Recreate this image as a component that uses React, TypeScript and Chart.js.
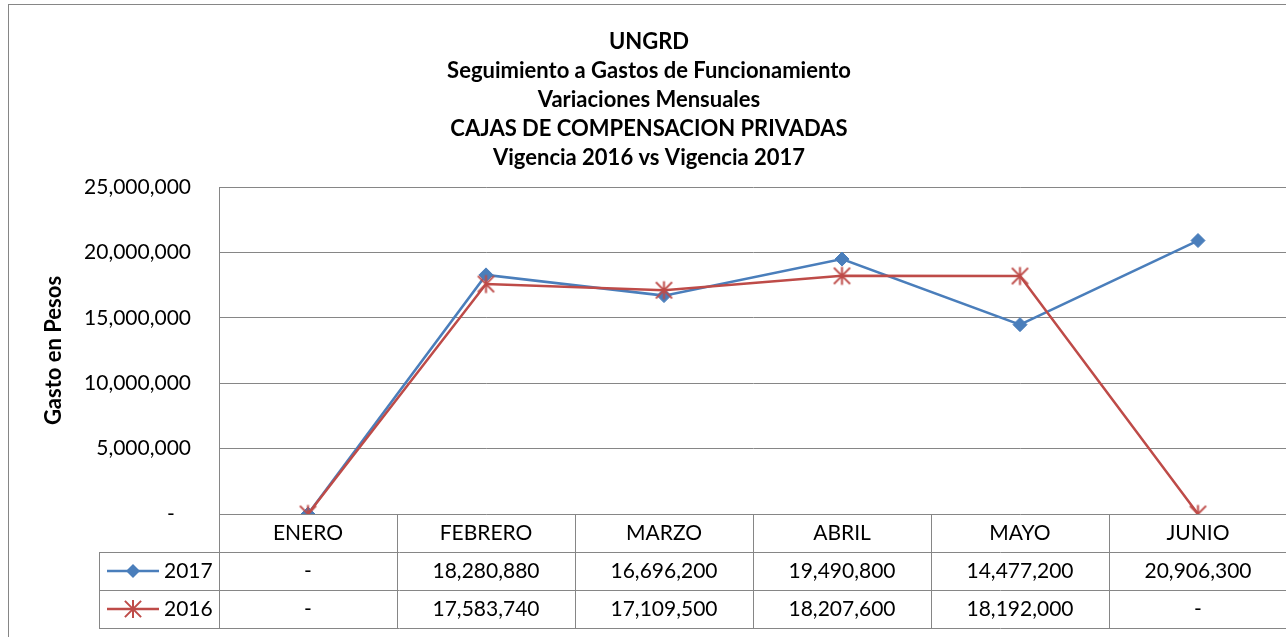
import React, { useEffect, useRef } from 'react';
import { Chart, registerables } from 'chart.js';

Chart.register(...registerables);

const categories = ['ENERO', 'FEBRERO', 'MARZO', 'ABRIL', 'MAYO', 'JUNIO'];
const series2017 = [0, 18280880, 16696200, 19490800, 14477200, 20906300];
const series2016 = [0, 17583740, 17109500, 18207600, 18192000, 0];
const seriesNames = ['2017', '2016'];
const titleLines = [
  'UNGRD',
  'Seguimiento a Gastos de Funcionamiento',
  'Variaciones Mensuales',
  'CAJAS DE COMPENSACION PRIVADAS',
  'Vigencia 2016 vs Vigencia 2017',
];
const yAxisTitle = 'Gasto en Pesos';
const yMin = 0;
const yMax = 25000000;
const yStep = 5000000;

const BLUE = '#4a7ebb';
const RED = '#be4b48';
const GRID = '#868686';
const FONT = 'Lato';
const FSIZE = 21;
const TSIZE = 22;

const fmt = (v: number) => (v === 0 ? '-' : v.toLocaleString('en-US'));

function drawStar(ctx: CanvasRenderingContext2D, cx: number, cy: number, r: number) {
  ctx.beginPath();
  ctx.moveTo(cx, cy - r);
  ctx.lineTo(cx, cy + r);
  ctx.moveTo(cx - r * 0.9, cy - r * 0.9);
  ctx.lineTo(cx + r * 0.9, cy + r * 0.9);
  ctx.moveTo(cx + r * 0.9, cy - r * 0.9);
  ctx.lineTo(cx - r * 0.9, cy + r * 0.9);
  ctx.stroke();
}

function drawDiamond(ctx: CanvasRenderingContext2D, cx: number, cy: number, r: number) {
  ctx.beginPath();
  ctx.moveTo(cx, cy - r);
  ctx.lineTo(cx + r, cy);
  ctx.lineTo(cx, cy + r);
  ctx.lineTo(cx - r, cy);
  ctx.closePath();
  ctx.fill();
}

function makeStarImage(): HTMLCanvasElement {
  const c = document.createElement('canvas');
  c.width = 21;
  c.height = 21;
  const ctx = c.getContext('2d')!;
  ctx.strokeStyle = RED;
  ctx.lineWidth = 2;
  drawStar(ctx, 10.5, 10.5, 9);
  return c;
}

const tablePlugin = {
  id: 'dataTable',
  beforeDraw(chart: any) {
    const ctx = chart.ctx as CanvasRenderingContext2D;
    ctx.save();
    ctx.fillStyle = '#ffffff';
    ctx.fillRect(0, 0, chart.width, chart.height);
    ctx.strokeStyle = GRID;
    ctx.lineWidth = 1;
    ctx.strokeRect(8.5, 4.5, chart.width + 100, chart.height + 100);
    ctx.restore();
  },
  afterDraw(chart: any) {
    const ctx = chart.ctx as CanvasRenderingContext2D;
    const area = chart.chartArea;
    const xs = chart.scales.x;
    const n = categories.length;
    const colW = (area.right - area.left) / n;
    const top = Math.round(area.bottom);
    const headerH = 38;
    const rowH = 38;
    const tableLeft = 99;
    const right = area.right + 20;
    const p = (v: number) => Math.round(v) + 0.5;

    ctx.save();
    ctx.strokeStyle = GRID;
    ctx.lineWidth = 1;
    for (let i = 0; i <= n; i++) {
      const x = p(area.left + i * colW);
      ctx.beginPath();
      ctx.moveTo(x, top);
      ctx.lineTo(x, top + headerH + 2 * rowH);
      ctx.stroke();
    }
    for (let r = 0; r <= 2; r++) {
      const y = p(top + headerH + r * rowH);
      ctx.beginPath();
      ctx.moveTo(tableLeft, y);
      ctx.lineTo(right, y);
      ctx.stroke();
    }
    ctx.beginPath();
    ctx.moveTo(p(tableLeft), top + headerH);
    ctx.lineTo(p(tableLeft), top + headerH + 2 * rowH + 0.5);
    ctx.stroke();

    ctx.fillStyle = '#000';
    ctx.font = `${FSIZE}px ${FONT}`;
    ctx.textBaseline = 'middle';
    ctx.textAlign = 'center';
    categories.forEach((c, i) => {
      ctx.fillText(c, xs.getPixelForValue(i), top + headerH / 2);
    });
    const rows = [series2017, series2016];
    rows.forEach((vals, r) => {
      const cy = top + headerH + r * rowH + rowH / 2;
      vals.forEach((v, i) => {
        ctx.fillText(fmt(v), xs.getPixelForValue(i), cy);
      });
    });

    rows.forEach((_, r) => {
      const cy = top + headerH + r * rowH + rowH / 2;
      const color = r === 0 ? BLUE : RED;
      ctx.strokeStyle = color;
      ctx.fillStyle = color;
      ctx.lineWidth = 2.5;
      ctx.beginPath();
      ctx.moveTo(107, cy);
      ctx.lineTo(159, cy);
      ctx.stroke();
      if (r === 0) {
        drawDiamond(ctx, 133, cy, 7);
      } else {
        ctx.lineWidth = 2;
        drawStar(ctx, 133, cy, 9);
      }
      ctx.fillStyle = '#000';
      ctx.textAlign = 'left';
      ctx.fillText(seriesNames[r], 164, cy);
    });
    ctx.restore();
  },
};

export default function App() {
  const ref = useRef<HTMLCanvasElement | null>(null);

  useEffect(() => {
    if (!ref.current) return;
    const star = makeStarImage();
    const chart = new Chart(ref.current, {
      type: 'line',
      data: {
        labels: categories,
        datasets: [
          {
            label: seriesNames[0],
            data: series2017,
            borderColor: BLUE,
            backgroundColor: BLUE,
            borderWidth: 2.5,
            pointStyle: 'rectRot',
            pointRadius: 7,
            pointBackgroundColor: BLUE,
            pointBorderColor: BLUE,
            pointBorderWidth: 1,
            tension: 0,
            order: 1,
          },
          {
            label: seriesNames[1],
            data: series2016,
            borderColor: RED,
            backgroundColor: RED,
            borderWidth: 2.5,
            pointStyle: star as any,
            pointRadius: 9,
            tension: 0,
            order: 0,
          },
        ],
      },
      options: {
        animation: false,
        responsive: false,
        devicePixelRatio: 1,
        layout: { padding: { left: 11, right: 13, top: 0, bottom: 123 } },
        plugins: {
          legend: { display: false },
          tooltip: { enabled: false },
          title: {
            display: true,
            text: titleLines,
            color: '#000',
            font: { family: FONT, size: TSIZE, weight: 'bold', lineHeight: 29 / TSIZE },
            padding: { top: 27.5, bottom: 14.5 },
          },
        },
        scales: {
          x: {
            type: 'category',
            display: false,
            offset: true,
          },
          y: {
            min: yMin,
            max: yMax,
            afterFit: (scale: any) => {
              scale.width = 208;
            },
            ticks: {
              stepSize: yStep,
              padding: 28,
              color: '#000',
              font: { family: FONT, size: FSIZE },
              callback: (v: any) => (Number(v) === 0 ? '-   ' : Number(v).toLocaleString('en-US')),
            },
            grid: { color: GRID, lineWidth: 1, drawTicks: false },
            border: { display: true, color: GRID, width: 1 },
            title: {
              display: true,
              text: yAxisTitle,
              color: '#000',
              font: { family: FONT, size: TSIZE, weight: 'bold' },
              padding: { top: 30, bottom: 0 },
            },
          },
        },
      },
      plugins: [tablePlugin],
    });
    return () => chart.destroy();
  }, []);

  return (
    <div
      style={{
        position: 'fixed',
        left: 0,
        top: 0,
        width: 1286,
        height: 637,
        overflow: 'hidden',
        background: '#fff',
      }}
    >
      <canvas ref={ref} width={1300} height={637} style={{ display: 'block', width: 1300, height: 637 }} />
    </div>
  );
}
